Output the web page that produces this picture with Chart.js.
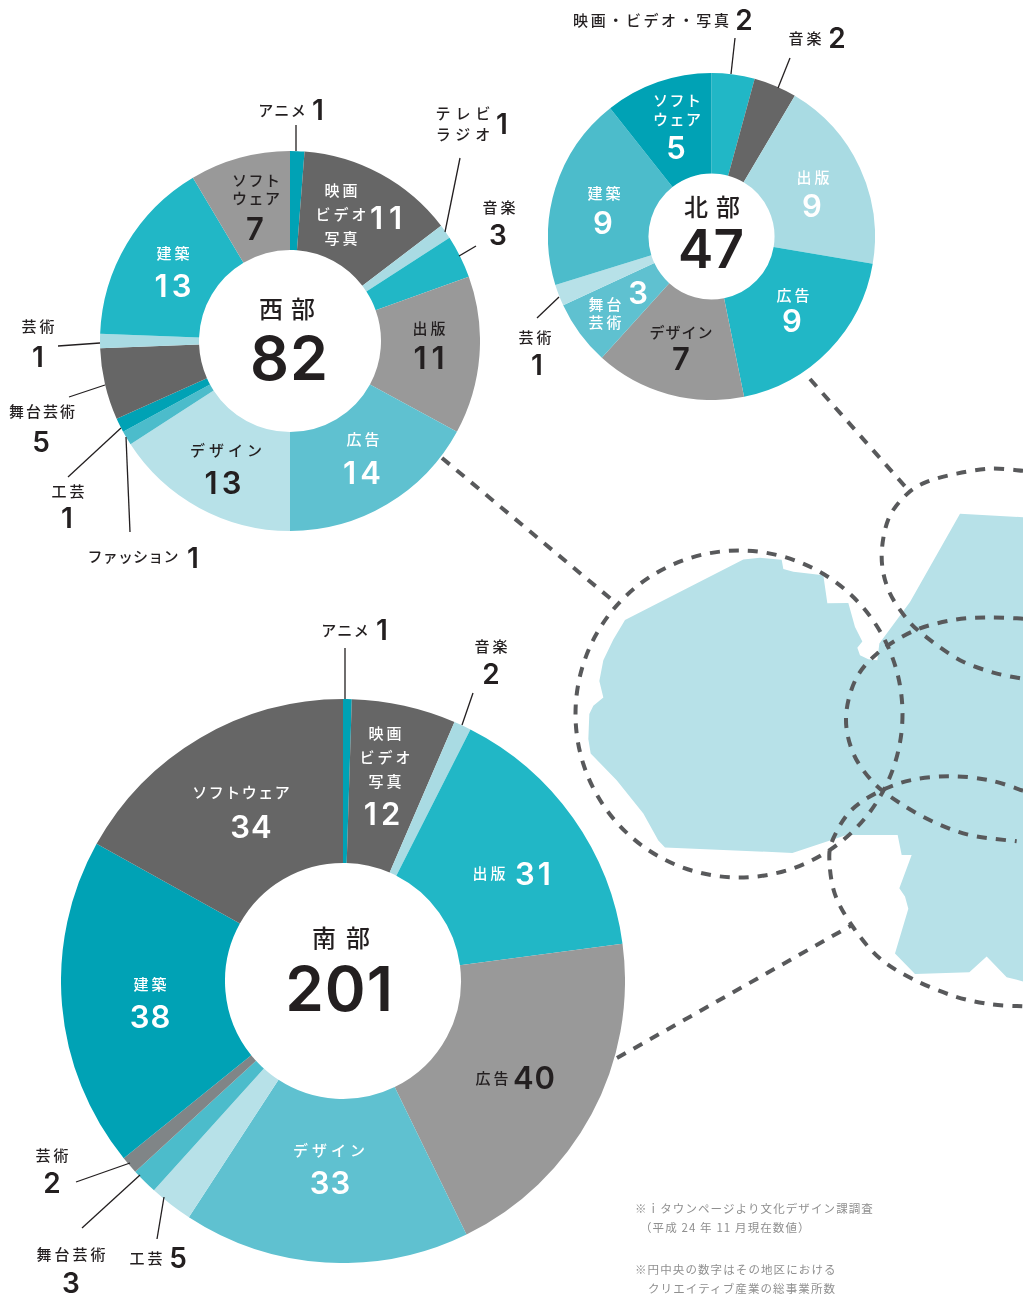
<!DOCTYPE html>
<html lang="ja">
<head>
<meta charset="utf-8">
<title>クリエイティブ産業の総事業所数</title>
<script src="https://cdn.jsdelivr.net/npm/chart.js@4"></script>
<style>
html,body{margin:0;padding:0;background:#fff;}
#stage{position:relative;width:1023px;height:1295px;overflow:hidden;}
#stage canvas{position:absolute;}
#overlay{position:absolute;left:0;top:0;pointer-events:none;}
#overlay text{font-family:"Noto Sans CJK JP","Noto Sans",sans-serif;font-weight:500;dominant-baseline:central;text-anchor:middle;}
#overlay text.n{font-family:Inter,Lato,sans-serif;font-weight:600;}
#overlay text.nm{font-family:"Noto Sans CJK JP","Noto Sans",sans-serif;font-weight:400;text-anchor:start;}
</style>
</head>
<body>
<div id="stage">
<canvas id="west"></canvas>
<canvas id="north"></canvas>
<canvas id="south"></canvas>
<svg id="overlay" width="1023" height="1295" xmlns="http://www.w3.org/2000/svg"></svg>
</div>
<script>
// ---------- data ----------
const westCategories = ["アニメ","映画・ビデオ・写真","テレビ・ラジオ","音楽","出版","広告","デザイン","ファッション","工芸","舞台芸術","芸術","建築","ソフトウェア"];
const westValues     = [1,11,1,3,11,14,13,1,1,5,1,13,7];
const northCategories = ["映画・ビデオ・写真","音楽","出版","広告","デザイン","舞台芸術","芸術","建築","ソフトウェア"];
const northValues     = [2,2,9,9,7,3,1,9,5];
const southCategories = ["アニメ","映画・ビデオ・写真","音楽","出版","広告","デザイン","工芸","舞台芸術","芸術","建築","ソフトウェア"];
const southValues     = [1,12,2,31,40,33,5,3,2,38,34];
const regionNames = ["西部","北部","南部"];
const regionTotals = [82,47,201];
const notes = ["※ｉタウンページより文化デザイン課調査","（平成 24 年 11 月現在数値）","※円中央の数字はその地区における","クリエイティブ産業の総事業所数"];

// ---------- colours ----------
const TEAL="#00a2b5",GRAY6="#666666",PALE="#a9dbe3",CYAN="#21b7c6",GRAY9="#999999",MID="#5fc1d0",PALER="#b7e1e8",SOFT="#4cbccb",GRAY8="#808587";
const westColors  = [TEAL,GRAY6,PALE,CYAN,GRAY9,MID,PALER,SOFT,TEAL,GRAY6,PALE,CYAN,GRAY9];
const northColors = [CYAN,GRAY6,PALE,CYAN,GRAY9,MID,PALER,SOFT,TEAL];
const southColors = [TEAL,GRAY6,PALE,CYAN,GRAY9,MID,PALER,SOFT,GRAY8,TEAL,GRAY6];

// ---------- doughnuts ----------
function donut(id,labels,data,colors,cx,cy,r,inner){
  const c=document.getElementById(id);
  c.width=2*r;c.height=2*r;
  c.style.width=2*r+"px";c.style.height=2*r+"px";
  c.style.left=(cx-r)+"px";c.style.top=(cy-r)+"px";
  new Chart(c,{type:"doughnut",
    data:{labels:labels,datasets:[{data:data,backgroundColor:colors,borderWidth:0,hoverOffset:0,offset:0,spacing:0}]},
    options:{responsive:false,animation:false,cutout:inner,devicePixelRatio:1,layout:{padding:0},
      plugins:{legend:{display:false},tooltip:{enabled:false}}}});
}
donut("west",westCategories,westValues,westColors,290,341,190,91);
donut("north",northCategories,northValues,northColors,711.5,236.5,163.5,63);
donut("south",southCategories,southValues,southColors,343,981,282,118);

// ---------- overlay: map, dashes, leaders, text ----------
const NS="http://www.w3.org/2000/svg",svg=document.getElementById("overlay");
function el(n,a,t){const e=document.createElementNS(NS,n);for(const k in a)e.setAttribute(k,a[k]);if(t!==undefined)e.textContent=t;svg.appendChild(e);return e;}
const mp=p=>[560+p[0]/3,370+p[1]*0.4145];
const mapShape=[[195,603],[550,457],[600,453],[665,458],[670,480],[700,487],[790,495],[802,563],[865,562],[885,620],[907,655],[892,670],[900,688],[925,698],[952,700],[958,660],[1050,560],[1200,347],[1389,355],[1389,1475],[1340,1465],[1280,1415],[1228,1453],[1065,1457],[1005,1408],[1045,1300],[1035,1270],[1018,1250],[1055,1170],[1025,1170],[1013,1122],[860,1122],[810,1135],[697,1165],[315,1152],[295,1135],[250,1070],[170,990],[92,925],[85,890],[88,830],[100,810],[130,790],[118,750],[130,700],[160,650]];
el("polygon",{points:mapShape.map(p=>mp(p).join(",")).join(" "),fill:"#b7e1e8"});
function smooth(pts){
  const P=pts.map(mp);let d="M"+P[0].join(" ");
  for(let i=0;i<P.length-1;i++){
    const a=P[Math.max(i-1,0)],b=P[i],c=P[i+1],e=P[Math.min(i+2,P.length-1)];
    d+=" C"+(b[0]+(c[0]-a[0])/6)+" "+(b[1]+(c[1]-a[1])/6)+" "+(c[0]-(e[0]-b[0])/6)+" "+(c[1]-(e[1]-b[1])/6)+" "+c[0]+" "+c[1];
  }
  return d;
}
const dash={fill:"none",stroke:"#58595b","stroke-width":4,"stroke-dasharray":"10 9"};
el("circle",Object.assign({cx:739,cy:714,r:163.5},dash));
[[[1389,243],[1290,238],[1190,250],[1100,270],[1040,300],[985,360],[965,450],[985,530],[1040,600],[1100,645],[1200,700],[1300,730],[1389,745]],
 [[1389,600],[1290,597],[1180,603],[1060,630],[950,685],[885,750],[858,840],[880,925],[940,995],[1020,1045],[1120,1090],[1230,1122],[1370,1137]],
 [[1389,1015],[1290,990],[1170,980],[1050,990],[950,1020],[870,1065],[820,1130],[808,1180],[825,1265],[880,1345],[960,1420],[1060,1470],[1180,1510],[1290,1530],[1389,1535]]
].forEach(p=>el("path",Object.assign({d:smooth(p)},dash)));
[[810,379,910,492],[442,458,617,604],[617,1058,852,925]].forEach(l=>el("line",Object.assign({x1:l[0],y1:l[1],x2:l[2],y2:l[3]},dash)));

[[296,125,296,151],[460,158,445,232],[476,246,459,256],[58,346,100,343],[69,397,105,385],[68,477,121,428],[130,532,126,437],
 [735,38,731,74],[790,58,778,88],[537,318,559,297],
 [345,648,345,699],[473,693,462,725],[76,1182,130,1163],[82,1228,140,1175],[157,1239,164,1197]
].forEach(l=>el("line",{x1:l[0],y1:l[1],x2:l[2],y2:l[3],stroke:"#231f20","stroke-width":1.3}));

const INK="#231f20",W="#ffffff",CJK_DY=-1.5;
function T(s,x,y,c,ls,size){const L=ls===undefined?3:ls;el("text",{x:x+L/2,y:y+CJK_DY*(size?1.8:1),fill:c||INK,"font-size":size||15,"letter-spacing":L},s);}
function N(v,x,y,c,size,ls){el("text",{class:"n",x:x+(ls||0)/2,y:y,fill:c||INK,"font-size":size||28,"letter-spacing":ls||0},v);}

// west labels
T("アニメ",282,111,INK,1.5);N(westValues[0],318,110);
T("テレビ",463,114,INK,5);T("ラジオ",463,135,INK,5);N(westValues[2],502,124);
T("音楽",499,208);N(westValues[3],498,235);
T("映画",341,191,W);T("ビデオ",341,215,W);T("写真",341,239,W);N(westValues[1],386,217,W,31,6);
T("出版",429,329);N(westValues[4],429,357,INK,31,5);
T("広告",363,440,W);N(westValues[5],362,472,W,31,4);
T("デザイン",226,451,INK,4);N(westValues[6],223,482,INK,31,4);
T("ソフト",256,181,INK,1.5);T("ウェア",256,199,INK,1.5);N(westValues[12],255,228,INK,31);
T("建築",173,254,W);N(westValues[11],173,285,W,31,4);
T("芸術",38,327);N(westValues[10],38,357);
T("舞台芸術",42,412,INK,2);N(westValues[9],41,442);
T("工芸",68,492);N(westValues[8],67,518);
T("ファッション",133,557,INK,0.2);N(westValues[7],193,558);
T(regionNames[0],287,310,INK,8,24);N(regionTotals[0],289,358,INK,61,1);

// north labels
T("映画・ビデオ・写真",651,21,INK,2.6);N(northValues[0],744,20);
T("音楽",805,39);N(northValues[1],837,38);
T("出版",813,178,W);N(northValues[2],812,205,W,31);
T("広告",793,296,W);N(northValues[3],792,320,W,31);
T("デザイン",681,333,INK,1);N(northValues[4],681,358,INK,31);
T("舞台",605,305,W);T("芸術",605,323,W);N(northValues[5],638,292,W,31);
T("芸術",535,338);N(northValues[6],537,365);
T("建築",604,194,W);N(northValues[7],603,222,W,31);
T("ソフト",677,101,W,1.5);T("ウェア",677,120,W,1.5);N(northValues[8],676,147,W,31);
T(regionNames[1],712,208,INK,8,24);N(regionTotals[1],711,249,INK,53,0);

// south labels
T("アニメ",345,631,INK,1.5);N(southValues[0],382,630);
T("音楽",491,647);N(southValues[2],491,674);
T("映画",385,734,W);T("ビデオ",385,758,W);T("写真",385,782,W);N(southValues[1],382,813,W,31,4);
T("出版",489,874,W);N(southValues[3],533,873,W,31,3);
T("広告",492,1079);N(southValues[4],534,1077,INK,31,1);
T("デザイン",329,1151,W,4);N(southValues[5],330,1182,W,31,1);
T("建築",150,985,W);N(southValues[9],150,1016,W,31,1);
T("ソフトウェア",241,793,W,1.5);N(southValues[10],251,826,W,31,1);
T("芸術",52,1156);N(southValues[8],52,1183);
T("舞台芸術",71,1255);N(southValues[7],71,1283);
T("工芸",146,1259);N(southValues[6],178,1258);
T(regionNames[2],341,939,INK,10,24);N(regionTotals[2],339,988,INK,62,1);

// notes
[[notes[0],635,1209],[notes[1],640,1228],[notes[2],635,1270],[notes[3],648,1289]].forEach(n=>{
  el("text",{class:"nm",x:n[1],y:n[2]-1,fill:"#8f8f8f","font-size":11.5,"letter-spacing":1.1},n[0]);
});
</script>
</body>
</html>
